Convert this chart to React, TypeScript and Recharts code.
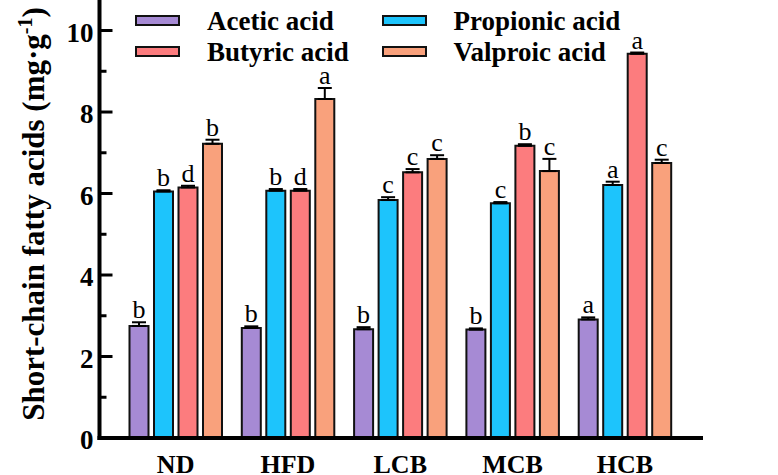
import { Bar, BarChart, ErrorBar, LabelList, XAxis, YAxis } from "recharts";

const groups = ["ND", "HFD", "LCB", "MCB", "HCB"];

const acetic = [2.75, 2.7, 2.67, 2.66, 2.91];
const aceticErr = [0.09, 0.04, 0.05, 0.03, 0.05];
const aceticSig = ["b", "b", "b", "b", "a"];

const propionic = [6.05, 6.07, 5.84, 5.76, 6.21];
const propionicErr = [0.03, 0.04, 0.07, 0.03, 0.08];
const propionicSig = ["b", "b", "c", "c", "a"];

const butyric = [6.15, 6.07, 6.52, 7.17, 9.43];
const butyricErr = [0.04, 0.04, 0.08, 0.04, 0.03];
const butyricSig = ["d", "d", "c", "b", "a"];

const valproic = [7.22, 8.32, 6.85, 6.55, 6.75];
const valproicErr = [0.1, 0.27, 0.09, 0.3, 0.08];
const valproicSig = ["b", "a", "c", "c", "c"];

const yTicks = [0, 1, 2, 3, 4, 5, 6, 7, 8, 9, 10];

const FONT = "Liberation Serif";

const series = [
  { key: "acetic", name: "Acetic acid", color: "#A68AD4", values: acetic, errors: aceticErr, letters: aceticSig },
  { key: "propionic", name: "Propionic acid", color: "#1DC4FC", values: propionic, errors: propionicErr, letters: propionicSig },
  { key: "butyric", name: "Butyric acid", color: "#FC7C7E", values: butyric, errors: butyricErr, letters: butyricSig },
  { key: "valproic", name: "Valproic acid", color: "#F9A17C", values: valproic, errors: valproicErr, letters: valproicSig },
];

const data = groups.map((group, i) => {
  const row: Record<string, any> = { group };
  series.forEach((s) => {
    row[s.key] = s.values[i];
    row[`${s.key}Err`] = [0, s.errors[i]]; // upper error only
    row[`${s.key}Sig`] = s.letters[i];
  });
  return row;
});

function YTick({ x, y, payload }: any) {
  const v = payload.value;
  const major = v % 2 === 0;
  const axisX = x + 6;
  return (
    <g>
      <line x1={axisX} x2={axisX + (major ? 13 : 7)} y1={y} y2={y} stroke="#000" strokeWidth={3} />
      {major && (
        <text x={x} y={y} dy="0.42em" textAnchor="end" fontFamily={FONT} fontWeight="bold" fontSize={27} fill="#000">
          {v}
        </text>
      )}
    </g>
  );
}

function XTick({ x, y, payload }: any) {
  return (
    <text x={x} y={y} dy="0.68em" textAnchor="middle" fontFamily={FONT} fontWeight="bold" fontSize={26} fill="#000">
      {payload.value}
    </text>
  );
}

// letter sits just above the error cap; cap height taken from the bar's own pixel scale
const sigLabel = (values: number[], errors: number[]) => (props: any) => {
  const { x, y, width, height, value, index } = props;
  const errPx = (height / values[index]) * errors[index];
  return (
    <text x={x + width / 2} y={y - errPx - 4} textAnchor="middle" fontFamily={FONT} fontSize={26} fill="#000">
      {value}
    </text>
  );
};

function YLabel() {
  return (
    <text
      transform="translate(43.5, 214) rotate(-90)"
      textAnchor="middle"
      fontFamily={FONT}
      fontWeight="bold"
      fontSize={31}
      fill="#000"
    >
      Short-chain fatty acids (mg·g
      <tspan dy={-12} fontSize={20}>-1</tspan>
      <tspan dy={12}>)</tspan>
    </text>
  );
}

function LegendBox() {
  const cols = [135, 381.5];
  const rows = [14.5, 45.5];
  return (
    <>
      {series.map((s, i) => {
        const left = cols[i % 2];
        const top = rows[Math.floor(i / 2)];
        return (
          <div key={s.key}>
            <div
              style={{
                position: "absolute",
                left,
                top,
                width: 45,
                height: 11,
                background: s.color,
                border: "2px solid #111",
                boxSizing: "border-box",
              }}
            />
            <div
              style={{
                position: "absolute",
                left: left + 72,
                top: top - 7,
                fontFamily: FONT,
                fontWeight: "bold",
                fontSize: 27,
                lineHeight: "27px",
                whiteSpace: "nowrap",
                color: "#000",
              }}
            >
              {s.name}
            </div>
          </div>
        );
      })}
    </>
  );
}

export default function App() {
  return (
    <div style={{ position: "absolute", left: 0, top: 0, width: 778, height: 475, background: "#fff", fontFamily: FONT }}>
      <BarChart
        width={778}
        height={475}
        data={data}
        margin={{ top: 2, right: 77, bottom: 0, left: 0 }}
        barCategoryGap={10}
        barGap={5.5}
      >
        <XAxis
          dataKey="group"
          height={37}
          padding={{ left: 20, right: 20 }}
          tickSize={0}
          tickMargin={17}
          tick={<XTick />}
          axisLine={{ stroke: "#000", strokeWidth: 4, strokeLinecap: "square" }}
          tickLine={false}
        />
        <XAxis
          xAxisId="top"
          orientation="top"
          dataKey="group"
          height={0}
          tick={false}
          tickLine={false}
          axisLine={{ stroke: "#000", strokeWidth: 4, strokeLinecap: "square" }}
        />
        <YAxis
          width={99.5}
          domain={[0, 10.7]}
          ticks={yTicks}
          interval={0}
          tickSize={0}
          tickMargin={6}
          tick={<YTick />}
          tickLine={false}
          axisLine={{ stroke: "#000", strokeWidth: 4, strokeLinecap: "square" }}
          label={<YLabel />}
        />
        <YAxis
          yAxisId="right"
          orientation="right"
          width={0}
          domain={[0, 10.7]}
          tick={false}
          tickLine={false}
          axisLine={{ stroke: "#000", strokeWidth: 4, strokeLinecap: "square" }}
        />
        {series.map((s) => (
          <Bar key={s.key} dataKey={s.key} name={s.name} fill={s.color} stroke="#111" strokeWidth={2} isAnimationActive={false}>
            <ErrorBar dataKey={`${s.key}Err`} width={7} stroke="#000" strokeWidth={2} />
            <LabelList dataKey={`${s.key}Sig`} content={sigLabel(s.values, s.errors)} />
          </Bar>
        ))}
      </BarChart>
      <LegendBox />
    </div>
  );
}
